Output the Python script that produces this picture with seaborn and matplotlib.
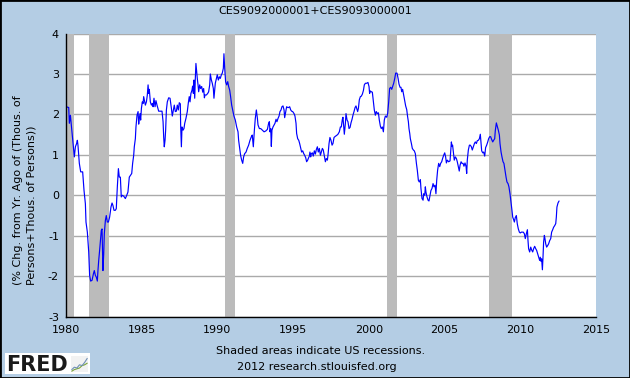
import matplotlib
matplotlib.use('Agg')
import matplotlib.pyplot as plt
import seaborn as sns
import pandas as pd
from matplotlib.patches import Rectangle

# 그래프 데이터 (% change from year ago)
years = [
    1980.00, 1980.18, 1980.22, 1980.29, 1980.35, 1980.44, 1980.51, 1980.55, 1980.62, 1980.70,
    1980.75, 1980.79, 1980.88, 1980.97, 1981.10, 1981.19, 1981.28, 1981.32, 1981.41, 1981.50,
    1981.56, 1981.63, 1981.72, 1981.81, 1981.87, 1981.94, 1982.00, 1982.07, 1982.11, 1982.16,
    1982.22, 1982.29, 1982.33, 1982.38, 1982.44, 1982.49, 1982.53, 1982.60, 1982.66, 1982.73,
    1982.80, 1982.88, 1982.97, 1983.04, 1983.10, 1983.17, 1983.26, 1983.32, 1983.39, 1983.46,
    1983.52, 1983.59, 1983.65, 1983.72, 1983.81, 1983.92, 1984.01, 1984.09, 1984.18, 1984.27,
    1984.34, 1984.40, 1984.47, 1984.51, 1984.58, 1984.62, 1984.69, 1984.76, 1984.80, 1984.84,
    1984.89, 1984.93, 1984.98, 1985.04, 1985.09, 1985.13, 1985.17, 1985.24, 1985.31, 1985.37,
    1985.42, 1985.46, 1985.50, 1985.57, 1985.64, 1985.70, 1985.75, 1985.81, 1985.88, 1985.94,
    1986.01, 1986.12, 1986.34, 1986.41, 1986.45, 1986.49, 1986.54, 1986.58, 1986.63, 1986.69,
    1986.78, 1986.87, 1986.96, 1987.02, 1987.09, 1987.15, 1987.22, 1987.29, 1987.35, 1987.42,
    1987.48, 1987.55, 1987.57, 1987.62, 1987.66, 1987.73, 1987.79, 1987.84, 1987.92, 1988.01,
    1988.08, 1988.14, 1988.19, 1988.25, 1988.32, 1988.36, 1988.41, 1988.45, 1988.50, 1988.54,
    1988.58, 1988.63, 1988.67, 1988.72, 1988.76, 1988.83, 1988.89, 1988.96, 1989.03, 1989.09,
    1989.14, 1989.18, 1989.27, 1989.36, 1989.42, 1989.49, 1989.53, 1989.60, 1989.66, 1989.73,
    1989.77, 1989.82, 1989.86, 1989.93, 1989.99, 1990.06, 1990.13, 1990.19, 1990.26, 1990.32,
    1990.39, 1990.43, 1990.48, 1990.54, 1990.61, 1990.68, 1990.74, 1990.81, 1990.87, 1990.94,
    1991.01, 1991.09, 1991.18, 1991.27, 1991.36, 1991.40, 1991.47, 1991.53, 1991.60, 1991.67,
    1991.73, 1991.80, 1991.89, 1991.97, 1992.06, 1992.15, 1992.24, 1992.30, 1992.37, 1992.44,
    1992.50, 1992.57, 1992.64, 1992.68, 1992.77, 1992.86, 1992.97, 1993.08, 1993.19, 1993.30,
    1993.38, 1993.43, 1993.47, 1993.52, 1993.56, 1993.60, 1993.67, 1993.74, 1993.80, 1993.87,
    1993.93, 1994.00, 1994.07, 1994.13, 1994.20, 1994.26, 1994.33, 1994.40, 1994.44, 1994.51,
    1994.57, 1994.64, 1994.70, 1994.77, 1994.84, 1994.90, 1994.97, 1995.06, 1995.12, 1995.19,
    1995.23, 1995.30, 1995.37, 1995.43, 1995.50, 1995.56, 1995.63, 1995.70, 1995.76, 1995.83,
    1995.89, 1995.96, 1996.00, 1996.07, 1996.11, 1996.16, 1996.20, 1996.27, 1996.33, 1996.40,
    1996.47, 1996.53, 1996.60, 1996.66, 1996.73, 1996.80, 1996.86, 1996.93, 1996.99, 1997.06,
    1997.13, 1997.19, 1997.26, 1997.30, 1997.37, 1997.43, 1997.50, 1997.57, 1997.63, 1997.70,
    1997.79, 1997.87, 1997.96, 1998.05, 1998.12, 1998.18, 1998.25, 1998.29, 1998.34, 1998.38,
    1998.45, 1998.49, 1998.56, 1998.62, 1998.69, 1998.76, 1998.82, 1998.89, 1998.95, 1999.02,
    1999.09, 1999.15, 1999.22, 1999.26, 1999.31, 1999.37, 1999.44, 1999.50, 1999.57, 1999.64,
    1999.70, 1999.77, 1999.86, 1999.94, 2000.01, 2000.05, 2000.10, 2000.16, 2000.23, 2000.30,
    2000.36, 2000.43, 2000.49, 2000.56, 2000.63, 2000.69, 2000.76, 2000.82, 2000.89, 2000.96,
    2001.02, 2001.09, 2001.18, 2001.24, 2001.31, 2001.37, 2001.44, 2001.51, 2001.57, 2001.64,
    2001.71, 2001.77, 2001.86, 2001.93, 2001.99, 2002.06, 2002.12, 2002.17, 2002.23, 2002.30,
    2002.37, 2002.43, 2002.50, 2002.56, 2002.61, 2002.65, 2002.70, 2002.74, 2002.81, 2002.87,
    2002.94, 2003.00, 2003.07, 2003.14, 2003.20, 2003.27, 2003.33, 2003.40, 2003.44, 2003.51,
    2003.58, 2003.62, 2003.69, 2003.73, 2003.77, 2003.84, 2003.91, 2003.97, 2004.04, 2004.10,
    2004.17, 2004.24, 2004.30, 2004.37, 2004.43, 2004.48, 2004.54, 2004.61, 2004.68, 2004.74,
    2004.81, 2004.87, 2004.94, 2005.01, 2005.07, 2005.12, 2005.18, 2005.27, 2005.36, 2005.40,
    2005.45, 2005.49, 2005.53, 2005.58, 2005.64, 2005.71, 2005.78, 2005.84, 2005.91, 2005.97,
    2006.02, 2006.09, 2006.15, 2006.22, 2006.28, 2006.35, 2006.42, 2006.46, 2006.50, 2006.57,
    2006.64, 2006.70, 2006.77, 2006.83, 2006.90, 2006.97, 2007.03, 2007.10, 2007.16, 2007.23,
    2007.30, 2007.36, 2007.41, 2007.45, 2007.52, 2007.58, 2007.65, 2007.71, 2007.78, 2007.85,
    2007.91, 2007.98, 2008.04, 2008.11, 2008.18, 2008.24, 2008.31, 2008.35, 2008.42, 2008.48,
    2008.55, 2008.62, 2008.66, 2008.73, 2008.79, 2008.86, 2008.92, 2008.99, 2009.06, 2009.12,
    2009.19, 2009.25, 2009.32, 2009.36, 2009.41, 2009.45, 2009.50, 2009.56, 2009.61, 2009.67,
    2009.74, 2009.80, 2009.87, 2009.94, 2010.00, 2010.07, 2010.14, 2010.20, 2010.27, 2010.33,
    2010.40, 2010.47, 2010.51, 2010.55, 2010.62, 2010.69, 2010.75, 2010.82, 2010.88, 2010.95,
    2011.02, 2011.08, 2011.15, 2011.21, 2011.28, 2011.32, 2011.37, 2011.41, 2011.46, 2011.50,
    2011.54, 2011.59, 2011.63, 2011.68, 2011.74, 2011.81, 2011.87, 2011.94, 2012.01, 2012.07,
    2012.14, 2012.20, 2012.27, 2012.34, 2012.38, 2012.42, 2012.49, 2012.56,
]
pct_chg = [
    2.19, 2.17, 1.78, 1.98, 1.74, 1.36, 1.12, 0.95, 1.20, 1.28,
    1.36, 1.24, 0.79, 0.58, 0.58, 0.12, -0.21, -0.66, -0.91, -1.40,
    -1.98, -2.12, -2.10, -1.94, -1.86, -1.98, -2.02, -2.12, -1.86, -1.61,
    -1.36, -1.03, -0.87, -0.83, -1.86, -1.45, -0.95, -0.62, -0.50, -0.66,
    -0.66, -0.54, -0.29, -0.19, -0.25, -0.37, -0.37, -0.33, 0.21, 0.66,
    0.45, 0.45, -0.04, 0.00, -0.02, -0.08, 0.00, 0.08, 0.45, 0.50,
    0.54, 0.79, 0.99, 1.20, 1.40, 1.69, 1.98, 2.07, 1.76, 1.90,
    2.02, 1.86, 2.15, 2.31, 2.27, 2.44, 2.36, 2.23, 2.31, 2.48,
    2.73, 2.52, 2.62, 2.31, 2.23, 2.27, 2.19, 2.40, 2.19, 2.34,
    2.23, 2.08, 2.08, 1.82, 1.45, 1.20, 1.36, 1.61, 2.11, 2.31,
    2.41, 2.40, 2.15, 1.96, 2.11, 2.23, 2.07, 2.08, 2.23, 2.11,
    2.29, 2.26, 1.74, 1.20, 1.69, 1.61, 1.65, 1.78, 1.90, 2.07,
    2.29, 2.44, 2.31, 2.52, 2.60, 2.70, 2.52, 2.85, 2.40, 2.89,
    3.26, 3.06, 2.89, 2.73, 2.56, 2.73, 2.64, 2.69, 2.55, 2.64,
    2.41, 2.48, 2.48, 2.52, 2.56, 2.73, 3.00, 2.85, 2.77, 2.64,
    2.40, 2.60, 2.77, 2.89, 2.98, 2.85, 2.93, 2.89, 2.98, 3.02,
    3.14, 3.50, 3.14, 2.81, 2.73, 2.81, 2.69, 2.60, 2.44, 2.23,
    2.11, 1.96, 1.86, 1.69, 1.57, 1.36, 1.16, 0.99, 0.87, 0.79,
    0.95, 1.03, 1.07, 1.16, 1.24, 1.36, 1.45, 1.49, 1.20, 1.61,
    1.90, 2.11, 1.90, 1.74, 1.65, 1.65, 1.61, 1.57, 1.59, 1.63,
    1.78, 1.82, 1.57, 1.65, 1.21, 1.61, 1.69, 1.74, 1.78, 1.88,
    1.82, 1.90, 1.96, 2.07, 2.11, 2.19, 2.21, 2.11, 1.92, 2.07,
    2.19, 2.17, 2.17, 2.19, 2.11, 2.08, 2.07, 2.02, 1.96, 1.78,
    1.53, 1.40, 1.36, 1.28, 1.16, 1.07, 1.10, 1.03, 0.99, 0.93,
    0.83, 0.87, 0.91, 0.97, 1.07, 0.95, 1.03, 1.05, 0.97, 1.10,
    1.02, 1.13, 1.20, 1.07, 1.16, 0.99, 1.07, 1.16, 1.12, 0.97,
    0.83, 0.91, 0.87, 0.99, 1.28, 1.43, 1.36, 1.24, 1.28, 1.43,
    1.46, 1.48, 1.51, 1.57, 1.69, 1.69, 1.88, 1.93, 1.69, 1.51,
    1.78, 2.02, 1.86, 1.82, 1.65, 1.68, 1.79, 1.88, 1.98, 2.07,
    2.17, 2.21, 2.12, 2.07, 2.15, 2.36, 2.44, 2.45, 2.50, 2.59,
    2.73, 2.77, 2.77, 2.79, 2.69, 2.52, 2.58, 2.56, 2.55, 2.31,
    2.11, 1.98, 2.07, 2.02, 2.04, 1.86, 1.71, 1.65, 1.69, 1.57,
    1.86, 1.96, 1.93, 2.02, 2.31, 2.64, 2.67, 2.62, 2.69, 2.77,
    2.89, 3.02, 3.02, 2.89, 2.75, 2.67, 2.67, 2.56, 2.62, 2.48,
    2.34, 2.21, 2.12, 1.94, 1.82, 1.65, 1.53, 1.40, 1.28, 1.16,
    1.12, 1.10, 1.03, 0.79, 0.62, 0.37, 0.33, 0.39, 0.17, -0.08,
    -0.12, 0.04, 0.00, 0.21, 0.08, -0.04, -0.12, -0.14, 0.00, 0.12,
    0.17, 0.29, 0.21, 0.25, 0.04, 0.37, 0.62, 0.79, 0.71, 0.79,
    0.83, 0.91, 0.99, 1.05, 0.95, 0.80, 0.87, 0.83, 0.85, 1.07,
    1.32, 1.21, 1.24, 1.07, 0.87, 0.95, 0.91, 0.83, 0.71, 0.60,
    0.74, 0.83, 0.79, 0.79, 0.72, 0.80, 0.71, 0.54, 0.87, 1.12,
    1.24, 1.24, 1.20, 1.12, 1.20, 1.28, 1.32, 1.28, 1.35, 1.36,
    1.40, 1.51, 1.28, 1.10, 1.05, 1.07, 0.97, 1.18, 1.24, 1.32,
    1.40, 1.45, 1.45, 1.38, 1.32, 1.36, 1.40, 1.60, 1.79, 1.71,
    1.61, 1.49, 1.28, 1.07, 0.95, 0.83, 0.79, 0.62, 0.45, 0.33,
    0.29, 0.21, 0.04, -0.08, -0.21, -0.37, -0.54, -0.60, -0.66, -0.55,
    -0.50, -0.70, -0.83, -0.91, -0.93, -0.91, -0.91, -0.91, -0.95, -1.07,
    -0.95, -0.85, -1.12, -1.32, -1.40, -1.28, -1.35, -1.40, -1.32, -1.26,
    -1.32, -1.36, -1.45, -1.53, -1.61, -1.53, -1.63, -1.57, -1.84, -1.53,
    -1.16, -0.99, -1.07, -1.20, -1.28, -1.24, -1.20, -1.12, -1.07, -0.91,
    -0.85, -0.79, -0.75, -0.70, -0.54, -0.29, -0.19, -0.14,
]

# 경기침체 구간 (start, end)
recession_start = [1980.00, 1981.50, 1990.50, 2001.17, 2007.92]
recession_end = [1980.50, 1982.83, 1991.17, 2001.84, 2009.42]

x_ticks = [1980, 1985, 1990, 1995, 2000, 2005, 2010, 2015]
y_ticks = [-3, -2, -1, 0, 1, 2, 3, 4]

# FRED 로고 아이콘용 작은 선
logo_blue = [0.15, 0.30, 0.25, 0.45, 0.40, 0.60, 0.85]
logo_green = [0.05, 0.15, 0.20, 0.25, 0.40, 0.45, 0.55]

BG = '#b4cde4'

sns.set_style('white')
plt.rcParams['font.family'] = ['DejaVu Sans']
plt.rcParams['axes.unicode_minus'] = False

df = pd.DataFrame({'year': years, 'pct': pct_chg})

fig = plt.figure(figsize=(6.3, 3.78), dpi=100, facecolor=BG)
ax = fig.add_axes([66 / 630, 61.3 / 378, 530 / 630, 283.2 / 378])
ax.set_facecolor('white')

for s, e in zip(recession_start, recession_end):
    ax.axvspan(s, e, color='#bbbbbb', lw=0, zorder=1)

sns.lineplot(data=df, x='year', y='pct', color='#0000ff', lw=0.85,
             estimator=None, sort=False, ax=ax, zorder=3)

ax.set_xlim(1980, 2015)
ax.set_ylim(-3, 4)
ax.set_xticks(x_ticks)
ax.set_yticks(y_ticks)
ax.set_xticklabels([str(t) for t in x_ticks])
ax.set_yticklabels([str(t) for t in y_ticks])
ax.set_xlabel('')
ax.set_ylabel('')

ax.set_axisbelow(True)
ax.yaxis.grid(True, color='#aaaaaa', lw=1.0)
ax.xaxis.grid(False)
for side in ['top', 'right']:
    ax.spines[side].set_visible(False)
for side in ['left', 'bottom']:
    ax.spines[side].set_color('black')
    ax.spines[side].set_linewidth(1.0)
    ax.spines[side].set_zorder(4)
ax.tick_params(axis='both', direction='in', length=3.6, width=0.8, color='black',
               labelsize=8, labelcolor='black')
ax.tick_params(axis='x', pad=6)
ax.tick_params(axis='y', pad=5)

# 제목 및 텍스트
fig.text(0.5, 1 - 11 / 378, 'CES9092000001+CES9093000001', ha='center', va='center',
         fontsize=8, color='black')
fig.text(24.5 / 630, 93 / 378, '(% Chg. from Yr. Ago of (Thous. of\nPersons+Thous. of Persons))',
         rotation=90, ha='center', va='bottom', multialignment='left', fontsize=8,
         linespacing=1.45, color='black')
fig.text(321 / 630, 1 - 351 / 378, 'Shaded areas indicate US recessions.', ha='center',
         va='center', fontsize=8, color='black')
fig.text(317 / 630, 1 - 366.5 / 378, '2012 research.stlouisfed.org', ha='center',
         va='center', fontsize=8, color='black')

# FRED 로고
logo = fig.add_axes([5 / 630, 4 / 378, 85 / 630, 21 / 378])
logo.set_facecolor('white')
logo.set_xticks([])
logo.set_yticks([])
for sp in logo.spines.values():
    sp.set_visible(False)
logo.text(0.01, 0.45, 'FRED', transform=logo.transAxes, ha='left', va='center',
          fontsize=15, fontweight='heavy', color='#1a1a1a')

icon = fig.add_axes([71 / 630, 6 / 378, 17 / 630, 16 / 378])
icon.set_facecolor('#f2f2f2')
icon.plot(range(len(logo_green)), logo_green, color='#7aa33a', lw=0.8)
icon.plot(range(len(logo_blue)), logo_blue, color='#6f8fb5', lw=0.8)
icon.set_ylim(0, 1)
icon.set_xticks([])
icon.set_yticks([])
for sp in icon.spines.values():
    sp.set_visible(False)

# 바깥 테두리
fig.patches.append(Rectangle((0, 0), 1, 1, transform=fig.transFigure, fill=False,
                             ec='black', lw=2.0, zorder=10))

plt.savefig('out.png', dpi=100, facecolor=BG)
